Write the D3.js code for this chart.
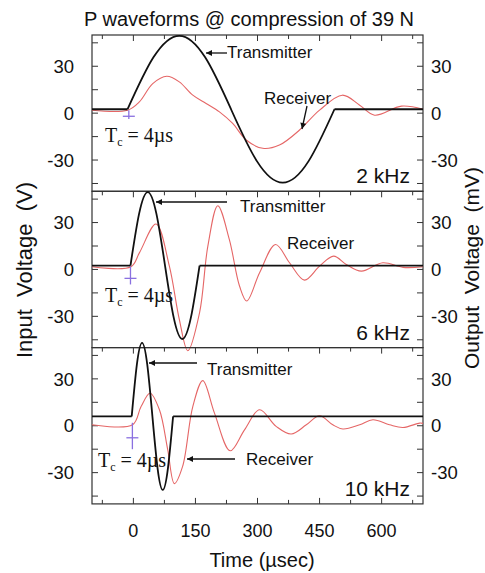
<!DOCTYPE html>
<html><head><meta charset="utf-8">
<script src="https://cdn.jsdelivr.net/npm/d3@7/dist/d3.min.js"></script>
<style>
html,body{margin:0;padding:0;background:#fff;}
svg{display:block;}
text{font-family:"Liberation Sans",Arial,sans-serif;fill:#111;}
</style></head>
<body><svg id="c" width="485" height="573"></svg>
<script>
// ---------- data ----------
const title = "P waveforms @ compression of 39 N";
const panelLabels = ["2 kHz", "6 kHz", "10 kHz"];
const timeTicks = [0, 150, 300, 450, 600];
const timeMinorTicks = [-75, 75, 225, 375, 525, 675];
const voltTicks = [-30, 0, 30];
const voltMinorTicks = [-45, -15, 15, 45];
const xLabel = "Time (\u00b5sec)";
const yLabelLeft = "Input  Voltage  (V)";
const yLabelRight = "Output  Voltage  (mV)";

// transmitter (black): [time µs, volts]
const tx2k = [[-100,2.5],[-14,2.5],[48.5,35.7],[111,49.5],[173.5,35.7],[236,2.5],[298.5,-30.7],[361,-44.5],[423.5,-30.7],[486,2.5],[700,2.5]];
const tx6k = [[-100,2.5],[-7,2.5],[13.9,35.7],[34.75,49.5],[55.6,35.7],[76.5,2.5],[97.4,-30.7],[118.25,-44.5],[139.1,-30.7],[160,2.5],[700,2.5]];
const tx10k = [[-100,6],[-4,6],[8.5,39.2],[21,53],[33.5,39.2],[46,6],[58.5,-27.2],[71,-41],[83.5,-27.2],[96,6],[700,6]];

// receiver (red): [time µs, mV]
const rx2k = [[-100,1.9],[-14,1.9],[14.5,7.2],[46.8,18.9],[80.7,23.6],[111,20],[143.6,11.5],[175.8,6.2],[208,0.8],[240,-6.6],[272.7,-17.2],[312.9,-22.5],[353,-20.4],[401.6,-10.8],[450,1.9],[505,11.5],[547,5.1],[583,-1.3],[648,4.5],[700,2.5]];
const rx6k = [[-100,1.7],[-6,1.7],[14.5,10.6],[54.8,29.1],[87,2.1],[111,-31.9],[131.5,-52],[160,-27.6],[180,14.9],[204,40.8],[232,19.1],[256.5,-10.6],[274,-20.2],[305,-2.1],[343.6,16],[377.4,4.3],[413.7,-6.8],[450,2.1],[484,8.5],[514.6,3.2],[551,-1.1],[603,4.3],[652,1.3],[700,1.7]];
const rx10k = [[-100,0.6],[-2,0.6],[18.6,12.3],[40.3,20.8],[63,10.2],[83,-15.3],[99,-37],[119,-26],[143.6,12.3],[167.8,28.9],[196,8.1],[234,-16],[268.6,-2.6],[305,10.2],[345,-0.4],[381.5,-5.3],[418,0.6],[450,6.4],[482,0.6],[506.5,-2.1],[547,0.6],[579,3.8],[619,0.6],[651.6,-1.1],[692,1.7],[700,1.5]];

// Tc markers (purple crosses): time, bar level, top, bottom
const crossT = [-11, -7, -2.4];
const crossV = [-2, -5.7, -7.7];
const crossTop = [1.9, 1.9, 1.9];
const crossBottom = [-3.8, -9.6, -15];

const transmitters = [tx2k, tx6k, tx10k];
const receivers = [rx2k, rx6k, rx10k];

// ---------- layout ----------
const svg = d3.select("#c");
const L = 92, R = 423, panelTop0 = 35, panelH = 156.3;
const x = d3.scaleLinear().domain([-100, 700]).range([L, R]);
const frameColor = "#333";

svg.append("defs").append("marker")
  .attr("id","ah").attr("viewBox","0 0 10 10").attr("refX",10).attr("refY",5)
  .attr("markerWidth",8).attr("markerHeight",6).attr("markerUnits","userSpaceOnUse")
  .attr("orient","auto")
  .append("path").attr("d","M0,0 L10,5 L0,10 z").attr("fill","#111");

svg.append("text").attr("x",249).attr("y",26).attr("text-anchor","middle")
  .attr("font-size",20).text(title);

const panels = [0,1,2].map(i => {
  const top = panelTop0 + i*panelH;
  const y = d3.scaleLinear().domain([-50, 50]).range([top + panelH, top]);
  return {i, top, y};
});

panels.forEach(p => {
  const g = svg.append("g");
  const y = p.y, top = p.top, bot = top + panelH;
  g.append("rect").attr("x",L).attr("y",top).attr("width",R-L).attr("height",panelH)
    .attr("fill","none").attr("stroke",frameColor).attr("stroke-width",1.2);
  voltTicks.concat(voltMinorTicks).forEach(v => {
    g.append("line").attr("x1",L).attr("x2",L+6).attr("y1",y(v)).attr("y2",y(v))
      .attr("stroke",frameColor).attr("stroke-width",1);
    g.append("line").attr("x1",R).attr("x2",R-6).attr("y1",y(v)).attr("y2",y(v))
      .attr("stroke",frameColor).attr("stroke-width",1);
  });
  voltTicks.forEach(v => {
    g.append("text").attr("x",74).attr("y",y(v)).attr("dy","0.36em").attr("text-anchor","end")
      .attr("font-size",18.5).text(v);
    g.append("text").attr("x",431).attr("y",y(v)).attr("dy","0.36em").attr("text-anchor","start")
      .attr("font-size",18.5).text(v);
  });
  timeTicks.forEach(t => g.append("line").attr("x1",x(t)).attr("x2",x(t)).attr("y1",top).attr("y2",top+6)
      .attr("stroke",frameColor).attr("stroke-width",1));
  timeMinorTicks.forEach(t => g.append("line").attr("x1",x(t)).attr("x2",x(t)).attr("y1",top).attr("y2",top+4)
      .attr("stroke",frameColor).attr("stroke-width",1));
  if (p.i === 2) {
    timeTicks.forEach(t => g.append("line").attr("x1",x(t)).attr("x2",x(t)).attr("y1",bot).attr("y2",bot-6)
        .attr("stroke",frameColor).attr("stroke-width",1));
    timeMinorTicks.forEach(t => g.append("line").attr("x1",x(t)).attr("x2",x(t)).attr("y1",bot).attr("y2",bot-4)
        .attr("stroke",frameColor).attr("stroke-width",1));
  }
  const rx = receivers[p.i];
  g.append("path").attr("d", d3.line().x(d=>x(d[0])).y(d=>y(d[1])).curve(d3.curveCatmullRom.alpha(0.5))(rx))
    .attr("fill","none").attr("stroke","#e56666").attr("stroke-width",1.1);
  const tx = transmitters[p.i];
  const lin = d3.line().x(d=>x(d[0])).y(d=>y(d[1]));
  const nat = d3.line().x(d=>x(d[0])).y(d=>y(d[1])).curve(d3.curveNatural);
  const n = tx.length;
  [[tx[0],tx[1]],[tx[n-2],tx[n-1]]].forEach(seg =>
    g.append("path").attr("d",lin(seg)).attr("fill","none").attr("stroke","#111").attr("stroke-width",1.8));
  g.append("path").attr("d",nat(tx.slice(1,n-1))).attr("fill","none").attr("stroke","#111").attr("stroke-width",1.8);
  const cx = x(crossT[p.i]);
  g.append("line").attr("x1",cx).attr("x2",cx).attr("y1",y(crossTop[p.i])).attr("y2",y(crossBottom[p.i]))
    .attr("stroke","#8a70e0").attr("stroke-width",1.3);
  g.append("line").attr("x1",cx-6).attr("x2",cx+6).attr("y1",y(crossV[p.i])).attr("y2",y(crossV[p.i]))
    .attr("stroke","#8a70e0").attr("stroke-width",1.3);
  g.append("text").attr("x",410).attr("y",bot-8).attr("text-anchor","end").attr("font-size",21)
    .text(panelLabels[p.i]);
});

function tcLabel(xp, yp) {
  const t = svg.append("text").attr("x",xp).attr("y",yp)
    .style("font-family","'Liberation Serif','Times New Roman',serif").attr("font-size",20);
  t.append("tspan").text("T");
  t.append("tspan").attr("font-size",12).attr("dy",4).text("c");
  t.append("tspan").attr("dy",-4).text(" = 4\u00b5s");
}
tcLabel(105, 142);
tcLabel(105, 302);
tcLabel(98, 467);

function arrow(x1,y1,x2,y2){
  svg.append("line").attr("x1",x1).attr("y1",y1).attr("x2",x2).attr("y2",y2)
    .attr("stroke","#111").attr("stroke-width",1.3).attr("marker-end","url(#ah)");
}
function ann(txt, xp, yp){
  svg.append("text").attr("x",xp).attr("y",yp).attr("font-size",17).text(txt);
}
ann("Transmitter", 227, 58); arrow(227, 53, 206, 53);
ann("Receiver", 264, 104); arrow(307, 106, 302, 129);
ann("Transmitter", 240, 212); arrow(227, 202, 156, 202);
ann("Receiver", 287, 249);
ann("Transmitter", 207, 375); arrow(197, 363, 149, 363);
ann("Receiver", 246, 465); arrow(235, 459, 187, 459);

timeTicks.forEach(t => svg.append("text").attr("x",x(t)).attr("y",537).attr("text-anchor","middle")
  .attr("font-size",18).text(t));
svg.append("text").attr("x",262).attr("y",567).attr("text-anchor","middle").attr("font-size",20).text(xLabel);
svg.append("text").attr("transform","translate(24,270) rotate(-90)").attr("dy","0.35em")
  .attr("text-anchor","middle").attr("font-size",22).style("white-space","pre").text(yLabelLeft);
svg.append("text").attr("transform","translate(472,268) rotate(-90)").attr("dy","0.35em")
  .attr("text-anchor","middle").attr("font-size",21).style("white-space","pre").text(yLabelRight);
</script></body></html>
